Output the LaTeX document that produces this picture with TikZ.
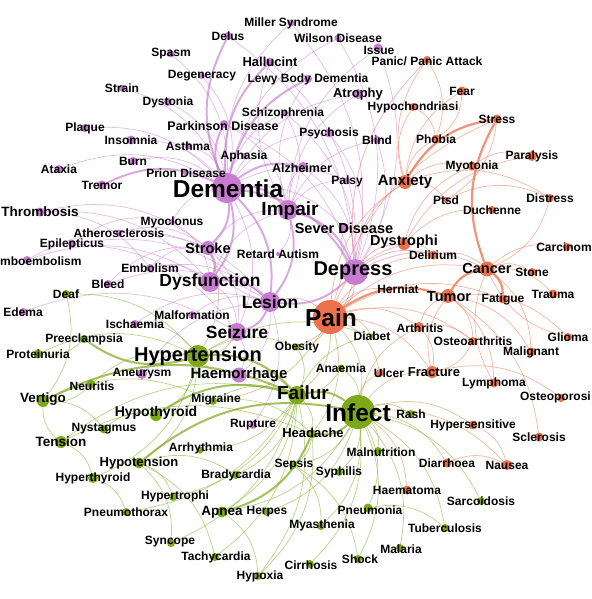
\documentclass[tikz,border=0pt]{standalone}
\usepackage{fontspec}
\setmainfont{Liberation Sans}
\pgfdeclarelayer{back}
\pgfsetlayers{back,main}
\definecolor{pur}{RGB}{199,124,209}
\definecolor{org}{RGB}{236,113,76}
\definecolor{grn}{RGB}{125,168,24}
\definecolor{pxo}{RGB}{222,116,140}
\definecolor{pxg}{RGB}{176,146,112}
\definecolor{oxg}{RGB}{200,146,62}
\tikzset{
    pnode/.style={
        circle, fill=pur, inner sep=0pt, minimum size=#1
    },
    onode/.style={
        circle, fill=org, inner sep=0pt, minimum size=#1
    },
    gnode/.style={
        circle, fill=grn, inner sep=0pt, minimum size=#1
    },
    lab/.style={
        inner sep=0pt, font=\bfseries\fontsize{#1}{#1}\selectfont
    },
    lab/.default=12,
    pe/.style={draw=pur, draw opacity=.5, line width=.7pt, bend left=25},
    pw/.style={draw=pur, draw opacity=.65, line width=2pt, bend left=25},
    oe/.style={draw=org, draw opacity=.5, line width=.7pt, bend left=25},
    ow/.style={draw=org, draw opacity=.75, line width=2.2pt, bend left=25},
    ge/.style={draw=grn, draw opacity=.5, line width=.7pt, bend left=25},
    gw/.style={draw=grn, draw opacity=.7, line width=2pt, bend left=25},
    po/.style={draw=pxo, draw opacity=.5, line width=.8pt, bend left=25},
    pg/.style={draw=pxg, draw opacity=.5, line width=.8pt, bend left=25},
    og/.style={draw=oxg, draw opacity=.5, line width=.8pt, bend left=25}
}

\begin{document}
\begin{tikzpicture}[x=1pt, y=-1pt]
        \useasboundingbox (0,0) rectangle (591,599);

        % Purple cluster

        \node[pnode=7pt]  (miller)       at (291,23)  {};
        \node[pnode=8pt]  (delus)        at (228,36)  {};
        \node[pnode=7pt]  (wilson)       at (338,38)  {};
        \node[pnode=9pt]  (issue)        at (378,48)  {};
        \node[pnode=7pt]  (spasm)        at (171,54)  {};
        \node[pnode=9pt]  (hallucint)    at (270,62)  {};
        \node[pnode=6pt]  (degeneracy)   at (202,76)  {};
        \node[pnode=8pt]  (lewy)         at (308,79)  {};
        \node[pnode=7pt]  (strain)       at (122,88)  {};
        \node[pnode=8pt]  (dystonia)     at (168,102) {};
        \node[pnode=10pt] (atrophy)      at (358,94)  {};
        \node[pnode=6pt]  (schizo)       at (285,113) {};
        \node[pnode=8pt]  (parkinson)    at (224,124) {};
        \node[pnode=9pt]  (psychosis)    at (329,133) {};
        \node[pnode=8pt]  (blind)        at (377,140) {};
        \node[pnode=8pt]  (plaque)       at (85,128)  {};
        \node[pnode=9pt]  (insomnia)     at (131,140) {};
        \node[pnode=7pt]  (asthma)       at (188,146) {};
        \node[pnode=6pt]  (aphasia)      at (244,156) {};
        \node[pnode=8pt]  (burn)         at (133,161) {};
        \node[pnode=6pt]  (prion)        at (185,172) {};
        \node[pnode=10pt] (alzheimer)    at (303,167) {};
        \node[pnode=7pt]  (palsy)        at (347,181) {};
        \node[pnode=8pt]  (ataxia)       at (59,169)  {};
        \node[pnode=9pt]  (tremor)       at (102,185) {};
        \node[pnode=30pt] (dementia)     at (227,188) {};
        \node[pnode=20pt] (impair)       at (288,210) {};
        \node[pnode=10pt] (sever)        at (344,228) {};
        \node[pnode=6pt]  (myoclonus)    at (172,222) {};
        \node[pnode=9pt]  (thrombosis)   at (40,212)  {};
        \node[pnode=7pt]  (athero)       at (119,233) {};
        \node[pnode=8pt]  (epilepticus)  at (72,244)  {};
        \node[pnode=14pt] (stroke)       at (208,248) {};
        \node[pnode=4pt]  (retard)       at (278,254) {};
        \node[pnode=8pt]  (mboemb)       at (27,260)  {};
        \node[pnode=8pt]  (embolism)     at (150,268) {};
        \node[pnode=8pt]  (bleed)        at (108,284) {};
        \node[pnode=20pt] (dysfunction)  at (210,282) {};
        \node[pnode=20pt] (lesion)       at (270,302) {};
        \node[pnode=8pt]  (edema)        at (23,312)  {};
        \node[pnode=8pt]  (malformation) at (192,315) {};
        \node[pnode=8pt]  (ischaemia)    at (135,324) {};
        \node[pnode=18pt] (seizure)      at (237,332) {};
        \node[pnode=26pt] (depress)      at (355,272) {};
        \node[pnode=10pt] (aneurysm)     at (142,374) {};
        \node[pnode=15pt] (haemorrhage)  at (239,375) {};
        \node[pnode=8pt]  (rupture)      at (253,425) {};

        % Orange cluster

        \node[onode=8pt]  (panic)        at (427,60)  {};
        \node[onode=9pt]  (fear)         at (462,91)  {};
        \node[onode=8pt]  (hypochon)     at (413,107) {};
        \node[onode=9pt]  (stress)       at (497,119) {};
        \node[onode=9pt]  (phobia)       at (436,139) {};
        \node[onode=10pt] (paralysis)    at (532,156) {};
        \node[onode=9pt]  (myotonia)     at (472,166) {};
        \node[onode=14pt] (anxiety)      at (405,182) {};
        \node[onode=6pt]  (ptsd)         at (446,200) {};
        \node[onode=8pt]  (distress)     at (550,198) {};
        \node[onode=8pt]  (duchenne)     at (492,210) {};
        \node[onode=12pt] (dystrophi)    at (404,244) {};
        \node[onode=8pt]  (carcinom)     at (567,247) {};
        \node[onode=9pt]  (delirium)     at (433,255) {};
        \node[onode=15pt] (cancer)       at (487,269) {};
        \node[onode=8pt]  (stone)        at (532,272) {};
        \node[onode=5pt]  (herniat)      at (390,289) {};
        \node[onode=14pt] (tumor)        at (448,296) {};
        \node[onode=9pt]  (fatigue)      at (503,299) {};
        \node[onode=9pt]  (trauma)       at (553,294) {};
        \node[onode=34pt] (pain)         at (330,317) {};
        \node[onode=10pt] (arthritis)    at (419,327) {};
        \node[onode=8pt]  (glioma)       at (568,337) {};
        \node[onode=8pt]  (osteoarth)    at (473,341) {};
        \node[onode=9pt]  (malignant)    at (531,352) {};
        \node[onode=12pt] (fracture)     at (432,372) {};
        \node[onode=8pt]  (ulcer)        at (380,373) {};
        \node[onode=9pt]  (lymphoma)     at (494,383) {};
        \node[onode=8pt]  (osteopor)     at (561,398) {};
        \node[onode=9pt]  (hypersens)    at (473,425) {};
        \node[onode=9pt]  (sclerosis)    at (539,437) {};
        \node[onode=9pt]  (diarrhoea)    at (447,463) {};
        \node[onode=10pt] (nausea)       at (507,465) {};
        \node[onode=9pt]  (haematoma)    at (407,490) {};

        % Green cluster

        \node[gnode=8pt]  (deaf)         at (66,294)  {};
        \node[gnode=8pt]  (preeclampsia) at (84,339)  {};
        \node[gnode=9pt]  (proteinuria)  at (38,354)  {};
        \node[gnode=7pt]  (obesity)      at (297,347) {};
        \node[gnode=5pt]  (diabet)       at (372,336) {};
        \node[gnode=22pt] (hypertension) at (198,356) {};
        \node[gnode=7pt]  (anaemia)      at (341,368) {};
        \node[gnode=9pt]  (neuritis)     at (91,384)  {};
        \node[gnode=18pt] (failur)       at (297,395) {};
        \node[gnode=12pt] (vertigo)      at (43,401)  {};
        \node[gnode=8pt]  (migraine)     at (213,401) {};
        \node[gnode=34pt] (infect)       at (358,412) {};
        \node[gnode=8pt]  (rash)         at (411,414) {};
        \node[gnode=12pt] (hypothyroid)  at (156,415) {};
        \node[gnode=9pt]  (nystagmus)    at (104,429) {};
        \node[gnode=9pt]  (headache)     at (312,434) {};
        \node[gnode=12pt] (tension)      at (61,442)  {};
        \node[gnode=7pt]  (arrhythmia)   at (200,450) {};
        \node[gnode=8pt]  (malnutrition) at (378,451) {};
        \node[gnode=11pt] (hypotension)  at (139,463) {};
        \node[gnode=8pt]  (sepsis)       at (293,465) {};
        \node[gnode=8pt]  (syphilis)     at (339,472) {};
        \node[gnode=8pt]  (bradycardia)  at (236,475) {};
        \node[gnode=10pt] (hyperthyroid) at (93,478)  {};
        \node[gnode=8pt]  (hypertrophi)  at (173,497) {};
        \node[gnode=9pt]  (pneumonia)    at (368,508) {};
        \node[gnode=8pt]  (sarcoidosis)  at (481,501) {};
        \node[gnode=11pt] (apnea)        at (222,512) {};
        \node[gnode=8pt]  (herpes)       at (267,512) {};
        \node[gnode=8pt]  (pneumothorax) at (126,512) {};
        \node[gnode=8pt]  (myasthenia)   at (321,526) {};
        \node[gnode=8pt]  (tuberculosis) at (445,528) {};
        \node[gnode=8pt]  (syncope)      at (171,543) {};
        \node[gnode=8pt]  (malaria)      at (400,548) {};
        \node[gnode=8pt]  (tachycardia)  at (215,557) {};
        \node[gnode=8pt]  (shock)        at (358,559) {};
        \node[gnode=8pt]  (cirrhosis)    at (310,564) {};
        \node[gnode=8pt]  (hypoxia)      at (258,576) {};

        % Labels

        \node[lab] (miller-t)       at (miller)       {Miller Syndrome};
        \node[lab] (delus-t)        at (delus)        {Delus};
        \node[lab] (wilson-t)       at (wilson)       {Wilson Disease};
        \node[lab] (issue-t)        at (379,50)       {Issue};
        \node[lab] (spasm-t)        at (spasm)        {Spasm};
        \node[lab=13] (hallucint-t) at (hallucint)    {Hallucint};
        \node[lab] (degeneracy-t)   at (degeneracy)   {Degeneracy};
        \node[lab] (lewy-t)         at (lewy)         {Lewy Body Dementia};
        \node[lab] (strain-t)       at (strain)       {Strain};
        \node[lab] (dystonia-t)     at (dystonia)     {Dystonia};
        \node[lab=13] (atrophy-t)   at (atrophy)      {Atrophy};
        \node[lab] (schizo-t)       at (283,113)      {Schizophrenia};
        \node[lab=12.5] (parkinson-t) at (223,126)    {Parkinson Disease};
        \node[lab] (psychosis-t)    at (psychosis)    {Psychosis};
        \node[lab] (blind-t)        at (blind)        {Blind};
        \node[lab] (plaque-t)       at (plaque)       {Plaque};
        \node[lab] (insomnia-t)     at (insomnia)     {Insomnia};
        \node[lab] (asthma-t)       at (asthma)       {Asthma};
        \node[lab] (aphasia-t)      at (aphasia)      {Aphasia};
        \node[lab] (burn-t)         at (burn)         {Burn};
        \node[lab] (prion-t)        at (186,173)      {Prion Disease};
        \node[lab=12.5] (alzheimer-t) at (302,168)    {Alzheimer};
        \node[lab] (palsy-t)        at (palsy)        {Palsy};
        \node[lab] (ataxia-t)       at (ataxia)       {Ataxia};
        \node[lab] (tremor-t)       at (tremor)       {Tremor};
        \node[lab=24.5] (dementia-t) at (228,189)     {Dementia};
        \node[lab=19] (impair-t)    at (290,211)      {Impair};
        \node[lab=14.5] (sever-t)   at (sever)        {Sever Disease};
        \node[lab] (myoclonus-t)    at (myoclonus)    {Myoclonus};
        \node[lab=13.5] (thrombosis-t) at (thrombosis) {Thrombosis};
        \node[lab] (athero-t)       at (athero)       {Atherosclerosis};
        \node[lab] (epilepticus-t)  at (epilepticus)  {Epilepticus};
        \node[lab=14.5] (stroke-t)  at (stroke)       {Stroke};
        \node[lab] (retard-t)       at (retard)       {Retard Autism};
        \node[lab, anchor=west] (mboemb-t) at (0,261) {mboembolism};
        \node[lab] (embolism-t)     at (embolism)     {Embolism};
        \node[lab] (bleed-t)        at (bleed)        {Bleed};
        \node[lab=17.5] (dysfunction-t) at (dysfunction) {Dysfunction};
        \node[lab=17.5] (lesion-t)  at (lesion)       {Lesion};
        \node[lab] (edema-t)        at (edema)        {Edema};
        \node[lab] (malformation-t) at (malformation) {Malformation};
        \node[lab] (ischaemia-t)    at (ischaemia)    {Ischaemia};
        \node[lab=17.5] (seizure-t) at (seizure)      {Seizure};
        \node[lab=20] (depress-t)   at (353,271)      {Depress};
        \node[lab] (aneurysm-t)     at (aneurysm)     {Aneurysm};
        \node[lab=15] (haemorrhage-t) at (haemorrhage) {Haemorrhage};
        \node[lab] (rupture-t)      at (rupture)      {Rupture};

        \node[lab] (panic-t)        at (427,61)       {Panic/ Panic Attack};
        \node[lab] (fear-t)         at (fear)         {Fear};
        \node[lab] (hypochon-t)     at (hypochon)     {Hypochondriasi};
        \node[lab] (stress-t)       at (stress)       {Stress};
        \node[lab] (phobia-t)       at (phobia)       {Phobia};
        \node[lab] (paralysis-t)    at (paralysis)    {Paralysis};
        \node[lab] (myotonia-t)     at (myotonia)     {Myotonia};
        \node[lab=15] (anxiety-t)   at (anxiety)      {Anxiety};
        \node[lab] (ptsd-t)         at (ptsd)         {Ptsd};
        \node[lab] (distress-t)     at (distress)     {Distress};
        \node[lab] (duchenne-t)     at (duchenne)     {Duchenne};
        \node[lab=14.5] (dystrophi-t) at (404,242)    {Dystrophi};
        \node[lab] (carcinom-t)     at (564,247)      {Carcinom};
        \node[lab] (delirium-t)     at (delirium)     {Delirium};
        \node[lab=14.5] (cancer-t)  at (cancer)       {Cancer};
        \node[lab] (stone-t)        at (stone)        {Stone};
        \node[lab] (herniat-t)      at (398,289)      {Herniat};
        \node[lab=14.5] (tumor-t)   at (449,297)      {Tumor};
        \node[lab] (fatigue-t)      at (fatigue)      {Fatigue};
        \node[lab] (trauma-t)       at (trauma)       {Trauma};
        \node[lab=24.5] (pain-t)    at (331,318)      {Pain};
        \node[lab] (arthritis-t)    at (420,328)      {Arthritis};
        \node[lab] (glioma-t)       at (glioma)       {Glioma};
        \node[lab] (osteoarth-t)    at (osteoarth)    {Osteoarthritis};
        \node[lab] (malignant-t)    at (malignant)    {Malignant};
        \node[lab=13] (fracture-t)  at (434,372)      {Fracture};
        \node[lab] (ulcer-t)        at (389,373)      {Ulcer};
        \node[lab] (lymphoma-t)     at (lymphoma)     {Lymphoma};
        \node[lab, anchor=east] (osteopor-t) at (591,397) {Osteoporosi};
        \node[lab] (hypersens-t)    at (hypersens)    {Hypersensitive};
        \node[lab] (sclerosis-t)    at (sclerosis)    {Sclerosis};
        \node[lab] (diarrhoea-t)    at (diarrhoea)    {Diarrhoea};
        \node[lab] (nausea-t)       at (nausea)       {Nausea};
        \node[lab] (haematoma-t)    at (haematoma)    {Haematoma};

        \node[lab] (deaf-t)         at (deaf)         {Deaf};
        \node[lab] (preeclampsia-t) at (preeclampsia) {Preeclampsia};
        \node[lab] (proteinuria-t)  at (proteinuria)  {Proteinuria};
        \node[lab] (obesity-t)      at (obesity)      {Obesity};
        \node[lab] (diabet-t)       at (diabet)       {Diabet};
        \node[lab=20] (hypertension-t) at (hypertension) {Hypertension};
        \node[lab] (anaemia-t)      at (anaemia)      {Anaemia};
        \node[lab] (neuritis-t)     at (92,386)       {Neuritis};
        \node[lab=19] (failur-t)    at (303,393)      {Failur};
        \node[lab=13.5] (vertigo-t) at (43,399)       {Vertigo};
        \node[lab] (migraine-t)     at (216,399)      {Migraine};
        \node[lab=24.5] (infect-t)  at (358,413)      {Infect};
        \node[lab] (rash-t)         at (rash)         {Rash};
        \node[lab=14] (hypothyroid-t) at (156,413)    {Hypothyroid};
        \node[lab] (nystagmus-t)    at (nystagmus)    {Nystagmus};
        \node[lab=13] (headache-t)  at (313,433)      {Headache};
        \node[lab=13.5] (tension-t) at (tension)      {Tension};
        \node[lab] (arrhythmia-t)   at (201,448)      {Arrhythmia};
        \node[lab] (malnutrition-t) at (381,452)      {Malnutrition};
        \node[lab=13] (hypotension-t) at (hypotension) {Hypotension};
        \node[lab] (sepsis-t)       at (294,464)      {Sepsis};
        \node[lab] (syphilis-t)     at (syphilis)     {Syphilis};
        \node[lab] (bradycardia-t)  at (bradycardia)  {Bradycardia};
        \node[lab] (hyperthyroid-t) at (hyperthyroid) {Hyperthyroid};
        \node[lab] (hypertrophi-t)  at (175,496)      {Hypertrophi};
        \node[lab] (pneumonia-t)    at (370,510)      {Pneumonia};
        \node[lab] (sarcoidosis-t)  at (sarcoidosis)  {Sarcoidosis};
        \node[lab=13.5] (apnea-t)   at (apnea)        {Apnea};
        \node[lab] (herpes-t)       at (herpes)       {Herpes};
        \node[lab] (pneumothorax-t) at (pneumothorax) {Pneumothorax};
        \node[lab] (myasthenia-t)   at (322,525)      {Myasthenia};
        \node[lab] (tuberculosis-t) at (tuberculosis) {Tuberculosis};
        \node[lab] (syncope-t)      at (170,542)      {Syncope};
        \node[lab] (malaria-t)      at (401,549)      {Malaria};
        \node[lab] (tachycardia-t)  at (216,557)      {Tachycardia};
        \node[lab] (shock-t)        at (360,559)      {Shock};
        \node[lab] (cirrhosis-t)    at (311,565)      {Cirrhosis};
        \node[lab] (hypoxia-t)      at (260,576)      {Hypoxia};

        \begin{pgfonlayer}{back}
        \fill[white] (0,0) rectangle (591,599);

        % Dementia and Impair

        \path (dementia) edge[pw] (impair)
                (dementia) edge[pw] (depress)
                (dementia) edge[pw] (dysfunction)
                (dementia) edge[pw] (lesion)
                (dementia) edge[pw] (stroke)
                (dementia) edge[pw] (parkinson)
                (dementia) edge[pw] (alzheimer)
                (dementia) edge[pw] (hallucint)
                (dementia) edge[pw] (lewy)
                (dementia) edge[pw] (delus)
                (tremor) edge[pw] (dementia)
                (dementia) edge[pe] (miller)
                (dementia) edge[pe] (schizo)
                (dementia) edge[pe] (psychosis)
                (dementia) edge[pe] (atrophy)
                (spasm) edge[pe] (dementia)
                (degeneracy) edge[pe] (dementia)
                (dystonia) edge[pe] (dementia)
                (strain) edge[pe] (dementia)
                (insomnia) edge[pe] (dementia)
                (asthma) edge[pe] (dementia)
                (burn) edge[pe] (dementia)
                (prion) edge[pe] (dementia)
                (ataxia) edge[pe] (dementia)
                (plaque) edge[pe] (dementia)
                (dementia) edge[pe] (aphasia)
                (myoclonus) edge[pe] (dementia)
                (dementia) edge[pe] (seizure)
                (dementia) edge[pe] (wilson)
                (dementia) edge[pe] (palsy)
                (dementia) edge[pe] (sever);

        \path (impair) edge[pw] (depress)
                (impair) edge[pw] (lesion)
                (dysfunction) edge[pe] (impair)
                (stroke) edge[pe] (impair)
                (impair) edge[pe] (alzheimer)
                (impair) edge[pe] (hallucint)
                (impair) edge[pe] (issue)
                (impair) edge[pe] (blind)
                (impair) edge[pe] (retard)
                (impair) edge[pe] (palsy)
                (impair) edge[pe] (atrophy)
                (impair) edge[pe] (lewy)
                (parkinson) edge[pe] (impair)
                (schizo) edge[pe] (impair);

        % Depress

        \path (depress) edge[pw] (lesion)
                (psychosis) edge[pe] (depress)
                (schizo) edge[pe] (depress)
                (depress) edge[pe] (sever)
                (issue) edge[pe] (depress)
                (delus) edge[pe] (depress)
                (wilson) edge[pe] (depress)
                (blind) edge[pe] (depress)
                (hallucint) edge[pe] (depress)
                (miller) edge[pe] (depress)
                (alzheimer) edge[pe] (depress)
                (parkinson) edge[pe] (depress)
                (depress) edge[po] (anxiety)
                (depress) edge[po] (panic)
                (depress) edge[po] (dystrophi)
                (depress) edge[po] (cancer)
                (depress) edge[po] (delirium)
                (depress) edge[po] (pain)
                (depress) edge[pg] (obesity);

        % Lesion, Seizure, Stroke

        \path (lesion) edge[pw] (seizure)
                (lesion) edge[pe] (stroke)
                (dysfunction) edge[pw] (lesion)
                (lesion) edge[po] (pain)
                (lesion) edge[pe] (haemorrhage)
                (malformation) edge[pe] (lesion)
                (ischaemia) edge[pe] (lesion)
                (bleed) edge[pe] (lesion)
                (embolism) edge[pe] (lesion)
                (epilepticus) edge[pe] (lesion)
                (athero) edge[pe] (lesion)
                (lesion) edge[pe] (rupture)
                (aneurysm) edge[pe] (lesion)
                (stroke) edge[pw] (dysfunction)
                (embolism) edge[pe] (dysfunction)
                (thrombosis) edge[pe] (dysfunction)
                (mboemb) edge[pe] (dysfunction)
                (dysfunction) edge[pe] (seizure)
                (myoclonus) edge[pe] (dysfunction)
                (seizure) edge[pe] (haemorrhage)
                (epilepticus) edge[pe] (seizure)
                (edema) edge[pe] (seizure)
                (stroke) edge[pe] (seizure)
                (thrombosis) edge[pe] (stroke)
                (athero) edge[pe] (stroke)
                (embolism) edge[pe] (stroke)
                (mboemb) edge[pe] (stroke)
                (bleed) edge[pe] (stroke)
                (thrombosis) edge[pe] (embolism)
                (epilepticus) edge[pe] (myoclonus);

        % Pain, Cancer, Tumor

        \path (pain) edge[ow] (tumor)
                (tumor) edge[ow] (cancer)
                (cancer) edge[ow] (stress)
                (cancer) edge[ow] (fatigue)
                (pain) edge[oe] (cancer)
                (pain) edge[og] (infect)
                (pain) edge[og] (failur)
                (pain) edge[og] (headache)
                (pain) edge[oe] (anxiety)
                (pain) edge[oe] (arthritis)
                (pain) edge[oe] (fracture)
                (pain) edge[oe] (fatigue)
                (pain) edge[og] (diabet)
                (pain) edge[og] (obesity)
                (pain) edge[oe] (ulcer)
                (pain) edge[oe] (osteoarth)
                (pain) edge[oe] (dystrophi)
                (pain) edge[oe] (delirium)
                (pain) edge[oe] (herniat)
                (pain) edge[og] (migraine)
                (pain) edge[oe] (stress)
                (cancer) edge[oe] (trauma)
                (distress) edge[oe] (cancer)
                (cancer) edge[oe] (carcinom)
                (cancer) edge[oe] (stone)
                (glioma) edge[oe] (cancer)
                (cancer) edge[oe] (malignant)
                (lymphoma) edge[oe] (cancer)
                (delirium) edge[oe] (cancer)
                (tumor) edge[oe] (glioma)
                (tumor) edge[oe] (malignant)
                (tumor) edge[oe] (lymphoma)
                (tumor) edge[oe] (osteoarth)
                (arthritis) edge[oe] (tumor)
                (fracture) edge[oe] (tumor)
                (tumor) edge[oe] (sclerosis)
                (fracture) edge[oe] (osteopor)
                (arthritis) edge[oe] (fracture)
                (osteoarth) edge[oe] (fracture)
                (arthritis) edge[oe] (osteoarth)
                (hypersens) edge[oe] (nausea)
                (diarrhoea) edge[oe] (nausea);

        % Anxiety, Dystrophi

        \path (anxiety) edge[oe] (phobia)
                (anxiety) edge[oe] (panic)
                (anxiety) edge[oe] (fear)
                (anxiety) edge[oe] (hypochon)
                (anxiety) edge[oe] (ptsd)
                (anxiety) edge[ow] (stress)
                (anxiety) edge[oe] (distress)
                (anxiety) edge[oe] (myotonia)
                (fear) edge[oe] (phobia)
                (panic) edge[oe] (phobia)
                (hypochon) edge[oe] (phobia)
                (dystrophi) edge[oe] (duchenne)
                (dystrophi) edge[oe] (myotonia)
                (dystrophi) edge[oe] (paralysis)
                (dystrophi) edge[oe] (delirium)
                (ptsd) edge[oe] (distress)
                (myotonia) edge[oe] (paralysis)
                (stress) edge[oe] (ptsd);

        % Infect, Failur

        \path (failur) edge[gw] (infect)
                (hypertension) edge[gw] (failur)
                (vertigo) edge[gw] (failur)
                (hypothyroid) edge[gw] (failur)
                (hypotension) edge[gw] (infect)
                (infect) edge[gw] (headache)
                (headache) edge[gw] (apnea)
                (infect) edge[ge] (sepsis)
                (infect) edge[ge] (pneumonia)
                (infect) edge[ge] (malnutrition)
                (infect) edge[ge] (syphilis)
                (infect) edge[ge] (herpes)
                (infect) edge[ge] (tuberculosis)
                (infect) edge[ge] (malaria)
                (infect) edge[ge] (shock)
                (infect) edge[ge] (cirrhosis)
                (infect) edge[ge] (myasthenia)
                (infect) edge[ge] (rash)
                (infect) edge[og] (hypersens)
                (infect) edge[og] (diarrhoea)
                (infect) edge[og] (nausea)
                (infect) edge[og] (haematoma)
                (infect) edge[ge] (sarcoidosis)
                (infect) edge[og] (ulcer)
                (anaemia) edge[ge] (infect)
                (infect) edge[ge] (apnea)
                (infect) edge[og] (fracture)
                (infect) edge[og] (arthritis)
                (tension) edge[ge] (failur)
                (failur) edge[ge] (arrhythmia)
                (failur) edge[ge] (bradycardia)
                (failur) edge[ge] (apnea)
                (failur) edge[ge] (headache)
                (obesity) edge[ge] (failur)
                (anaemia) edge[ge] (failur)
                (failur) edge[ge] (tachycardia)
                (failur) edge[ge] (syncope)
                (failur) edge[ge] (hypertrophi)
                (failur) edge[ge] (hypoxia)
                (failur) edge[ge] (pneumothorax)
                (haemorrhage) edge[pg] (failur)
                (migraine) edge[ge] (failur)
                (failur) edge[ge] (diabet);

        % Hypertension and the rest

        \path (hypertension) edge[gw] (preeclampsia)
                (proteinuria) edge[ge] (hypertension)
                (hypertension) edge[ge] (hypotension)
                (hypertension) edge[ge] (hypothyroid)
                (hypertension) edge[ge] (obesity)
                (hypertension) edge[ge] (diabet)
                (neuritis) edge[ge] (hypertension)
                (haemorrhage) edge[pg] (hypertension)
                (aneurysm) edge[pg] (hypertension)
                (stroke) edge[pg] (hypertension)
                (seizure) edge[pg] (hypertension)
                (hypertension) edge[ge] (hyperthyroid)
                (deaf) edge[ge] (hypertension)
                (ischaemia) edge[pg] (hypertension)
                (preeclampsia) edge[ge] (proteinuria)
                (tension) edge[ge] (vertigo)
                (vertigo) edge[ge] (nystagmus)
                (deaf) edge[ge] (vertigo)
                (vertigo) edge[ge] (migraine)
                (neuritis) edge[ge] (vertigo)
                (tension) edge[ge] (hyperthyroid)
                (tension) edge[ge] (headache)
                (hypotension) edge[ge] (syncope)
                (hypotension) edge[ge] (bradycardia)
                (hypotension) edge[ge] (tachycardia)
                (hypotension) edge[ge] (hypertrophi)
                (headache) edge[ge] (sepsis)
                (migraine) edge[ge] (headache)
                (headache) edge[ge] (hypoxia)
                (sepsis) edge[ge] (shock)
                (nystagmus) edge[ge] (hypothyroid)
                (hyperthyroid) edge[ge] (pneumothorax)
                (apnea) edge[ge] (hypoxia)
                (pneumonia) edge[ge] (tuberculosis)
                (sepsis) edge[ge] (myasthenia);
        \end{pgfonlayer}
    \end{tikzpicture}
\end{document}
